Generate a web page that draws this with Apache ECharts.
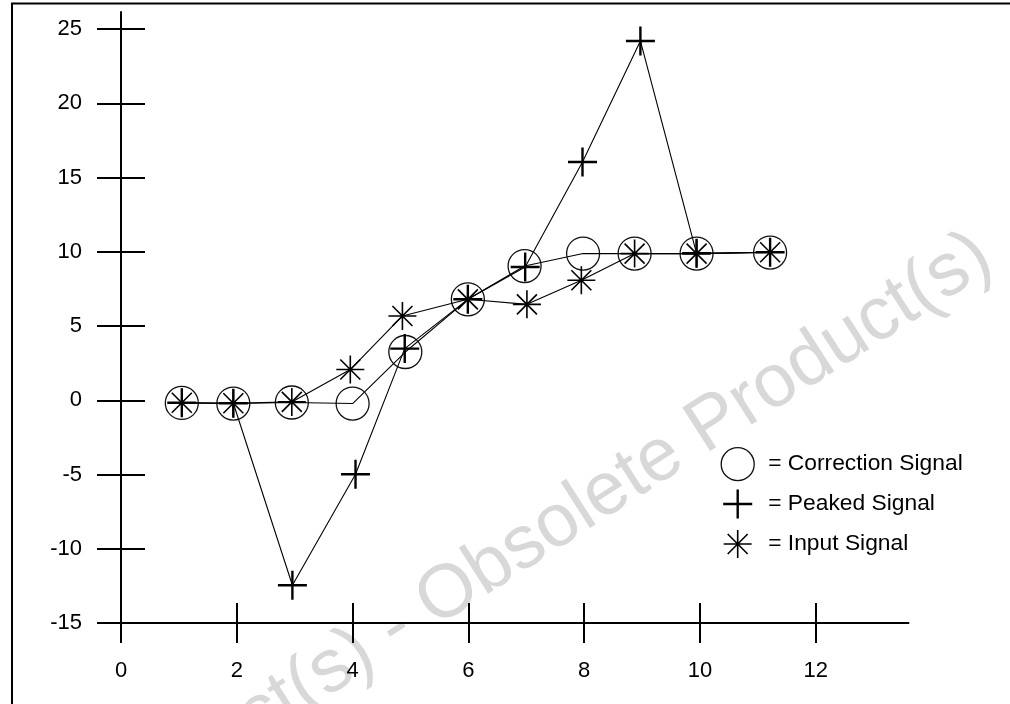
<!DOCTYPE html>
<html>
<head>
<meta charset="utf-8">
<script src="https://cdn.jsdelivr.net/npm/echarts@6/dist/echarts.min.js"></script>
<style>
html,body{margin:0;padding:0;background:#fff;}
#chart{width:1010px;height:704px;}
</style>
</head>
<body>
<div id="chart"></div>
<script>
// ---- data ----
const seriesNames = ['Correction Signal', 'Peaked Signal', 'Input Signal'];

const xCorrection = [1.05, 1.94, 2.95, 4.00, 4.91, 5.99, 6.97, 7.98, 8.87, 9.94, 11.21];
const yCorrection = [-0.18, -0.22, -0.15, -0.22, 3.25, 6.80, 9.04, 9.88, 9.88, 9.88, 9.95];

const xPeaked = [1.05, 1.94, 2.96, 4.05, 4.90, 5.99, 6.98, 7.97, 8.97, 9.94, 11.21];
const yPeaked = [-0.17, -0.20, -12.46, -4.98, 3.48, 6.80, 8.98, 16.05, 24.2, 9.90, 9.97];

const xInput = [1.05, 1.94, 2.95, 3.96, 4.86, 5.99, 7.01, 7.95, 8.87, 9.94, 11.21];
const yInput = [-0.17, -0.20, -0.11, 2.07, 5.68, 6.80, 6.46, 8.08, 9.88, 9.88, 9.97];

const xTicks = [0, 2, 4, 6, 8, 10, 12];
const yTicks = [-15, -10, -5, 0, 5, 10, 15, 20, 25];

const watermarkText = 'Obsolete Product(s) - Obsolete Product(s)';

// ---- helpers ----
function pairs(xs, ys) { return xs.map((x, i) => [x, ys[i]]); }

const FONT = 'Liberation Sans, Arial, Helvetica, sans-serif';
const plusPath = 'path://M0,-14L0,14M-14,0L14,0';
const starPath = 'path://M0,-14L0,14M-14,0L14,0M-10,-10L10,10M-10,10L10,-10';
const plusLegend = 'path://M-16.5,-16.5M16.5,16.5M0,-14.5L0,14.5M-14.5,0L14.5,0';
const starLegend = 'path://M-16.5,-16.5M16.5,16.5M0,-14L0,14M-14,0L14,0M-10,-10L10,10M-10,10L10,-10';

const X_MIN = 0, X_MAX = 13.6, Y_MIN = -15, Y_MAX = 26.15;
const gridBox = { left: 121, right: 101.5, top: 12, bottom: 81 };

const chart = echarts.init(document.getElementById('chart'), null, { renderer: 'canvas' });

const axisLineStyle = { color: '#000', width: 2 };

const option = {
  animation: false,
  backgroundColor: '#fff',
  textStyle: { fontFamily: FONT },
  grid: [
    Object.assign({ containLabel: false }, gridBox),
    Object.assign({ containLabel: false }, gridBox)
  ],
  xAxis: [
    {
      type: 'value', gridIndex: 0, min: X_MIN, max: X_MAX, position: 'bottom',
      axisLine: { show: true, onZero: false, lineStyle: axisLineStyle },
      axisTick: { show: true, inside: false, length: 20, lineStyle: { color: '#000', width: 2 }, customValues: xTicks },
      axisLabel: { show: true, customValues: xTicks, margin: 37, fontSize: 22, color: '#000', fontFamily: FONT },
      splitLine: { show: false }
    },
    {
      type: 'value', gridIndex: 1, min: X_MIN, max: X_MAX, position: 'bottom',
      axisLine: { show: false, onZero: false },
      axisTick: { show: true, inside: true, length: 20, lineStyle: { color: '#000', width: 2 }, customValues: xTicks },
      axisLabel: { show: false },
      splitLine: { show: false }
    }
  ],
  yAxis: [
    {
      type: 'value', gridIndex: 0, min: Y_MIN, max: Y_MAX, position: 'left',
      axisLine: { show: true, onZero: false, lineStyle: axisLineStyle },
      axisTick: { show: true, inside: false, length: 24, lineStyle: { color: '#000', width: 2 }, customValues: yTicks },
      axisLabel: { show: true, customValues: yTicks, margin: 39, fontSize: 22, color: '#000', fontFamily: FONT },
      splitLine: { show: false }
    },
    {
      type: 'value', gridIndex: 1, min: Y_MIN, max: Y_MAX, position: 'left',
      axisLine: { show: false, onZero: false },
      axisTick: { show: true, inside: true, length: 24, lineStyle: { color: '#000', width: 2 }, customValues: yTicks },
      axisLabel: { show: false },
      splitLine: { show: false }
    }
  ],
  legend: {
    orient: 'vertical',
    left: 715,
    top: 442,
    itemWidth: 33,
    itemHeight: 33,
    itemGap: 5,
    formatter: '= {name}',
    textStyle: { fontSize: 22.8, color: '#000', fontFamily: FONT, padding: [0, 0, 0, 9] },
    selectedMode: false,
    data: [
      { name: seriesNames[0], icon: 'circle', itemStyle: { color: 'rgba(0,0,0,0)', borderColor: '#111', borderWidth: 1.3 } },
      { name: seriesNames[1], icon: plusLegend, itemStyle: { color: 'rgba(0,0,0,0)', borderColor: '#000', borderWidth: 2.4 } },
      { name: seriesNames[2], icon: starLegend, itemStyle: { color: 'rgba(0,0,0,0)', borderColor: '#000', borderWidth: 1.6 } }
    ]
  },
  graphic: [
    {
      type: 'text',
      z: -10,
      x: 985, y: 250,
      rotation: 32.7 * Math.PI / 180,
      style: {
        text: watermarkText,
        fontSize: 75,
        fontFamily: FONT,
        fill: '#d8d8d8',
        align: 'right',
        verticalAlign: 'middle'
      },
      silent: true
    },
    {
      type: 'polyline',
      z: 100,
      shape: { points: [[12, 704], [12, 3.5], [1010, 3.5]] },
      style: { stroke: '#000', lineWidth: 2, fill: null },
      silent: true
    }
  ],
  series: [
    {
      name: seriesNames[0], type: 'line', xAxisIndex: 0, yAxisIndex: 0,
      data: pairs(xCorrection, yCorrection),
      symbol: 'circle', symbolSize: 33,
      itemStyle: { color: 'rgba(0,0,0,0)', borderColor: '#111', borderWidth: 1.3 },
      lineStyle: { color: '#000', width: 1.1 },
      emphasis: { disabled: true }, z: 3
    },
    {
      name: seriesNames[1], type: 'line', xAxisIndex: 0, yAxisIndex: 0,
      data: pairs(xPeaked, yPeaked),
      symbol: plusPath, symbolSize: 29,
      itemStyle: { color: 'rgba(0,0,0,0)', borderColor: '#000', borderWidth: 2.4 },
      lineStyle: { color: '#000', width: 1.1 },
      emphasis: { disabled: true }, z: 4
    },
    {
      name: seriesNames[2], type: 'line', xAxisIndex: 0, yAxisIndex: 0,
      data: pairs(xInput, yInput),
      symbol: starPath, symbolSize: 28,
      itemStyle: { color: 'rgba(0,0,0,0)', borderColor: '#000', borderWidth: 1.6 },
      lineStyle: { color: '#000', width: 1.1 },
      emphasis: { disabled: true }, z: 5
    }
  ]
};

chart.setOption(option);
</script>
</body>
</html>
